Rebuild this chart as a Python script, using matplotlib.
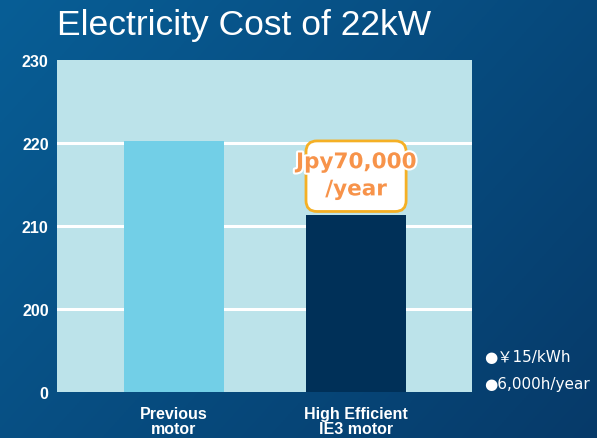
import matplotlib
matplotlib.use("Agg")
import matplotlib.pyplot as plt
import numpy as np
from matplotlib.patches import FancyBboxPatch
import matplotlib.patheffects as pe

# ---- data ----
categories = ["Previous\nmotor", "High Efficient\nIE3 motor"]
values = [220.25, 211.3]
bar_colors = ["#72cfe7", "#003058"]
ytick_values = [190, 200, 210, 220, 230]
ytick_labels = ["0", "200", "210", "220", "230"]
title = "Electricity Cost of 22kW"
annotation = "Jpy70,000\n/year"
notes = ["●￥15/kWh", "●6,000h/year"]

fig = plt.figure(figsize=(5.97, 4.39), dpi=100)

# gradient background
bg = fig.add_axes([0, 0, 1, 1], zorder=-10)
h, w = 200, 270
yy, xx = np.mgrid[0:h, 0:w]
t = (xx / w * 0.6 + yy / h * 0.4)
c0 = np.array([8, 94, 150]) / 255
c1 = np.array([6, 58, 105]) / 255
img = c0[None, None, :] * (1 - t[..., None]) + c1[None, None, :] * t[..., None]
bg.imshow(img, aspect="auto", extent=[0, 1, 0, 1], origin="upper")
bg.set_axis_off()

ax = fig.add_axes([57 / 597, 1 - 393 / 439, 415 / 597, 332 / 439])
ax.set_facecolor("#bce3ea")
x = np.arange(len(categories))
for yv in [200, 210, 220]:
    ax.axhline(yv, color="white", lw=2.2, zorder=1)
ax.bar(x, np.array(values) - 190, bottom=190, width=0.55, color=bar_colors, zorder=2)
ax.set_xlim(-0.643, 1.637)
ax.set_ylim(190, 230)
ax.set_yticks(ytick_values)
ax.set_yticklabels(ytick_labels, color="white", fontsize=11.5,
                   fontfamily="Liberation Sans", fontweight="bold")
ax.set_xticks(x)
ax.set_xticklabels(categories, color="white", fontsize=11.5,
                   fontfamily="Liberation Sans", fontweight="bold", linespacing=1.05)
ax.tick_params(axis="both", length=0)
ax.tick_params(axis="y", pad=6)
ax.tick_params(axis="x", pad=10)
for s in ax.spines.values():
    s.set_visible(False)

# annotation box
bx0, bx1 = 1 - 0.275, 1 + 0.275
by0, by1 = values[1] + 0.45, values[0]
box = FancyBboxPatch((bx0, by0), bx1 - bx0, by1 - by0,
                     boxstyle="round,pad=0,rounding_size=0.06",
                     mutation_aspect=(40 / 332) / (2.28 / 415),
                     facecolor="white", edgecolor="#f5b025", lw=2, zorder=3)
ax.add_patch(box)
ax.text(1, (by0 + by1) / 2 + 0.05, annotation, ha="center", va="center",
        fontsize=15.5, color="#f7934a", fontfamily="DejaVu Sans", fontweight="bold",
        linespacing=1.45, zorder=4,
        path_effects=[pe.withStroke(linewidth=3, foreground="white")])

fig.text(57 / 597, 1 - 26 / 439, title, color="white", fontsize=25.5,
         fontfamily="Liberation Sans", va="center", ha="left")

for i, n in enumerate(notes):
    fig.text(484 / 597, 1 - (358 + i * 27) / 439, n, color="white", fontsize=11,
             fontfamily=["DejaVu Sans", "Noto Sans CJK JP"],
             va="center", ha="left")

fig.savefig("out.png", dpi=100)
